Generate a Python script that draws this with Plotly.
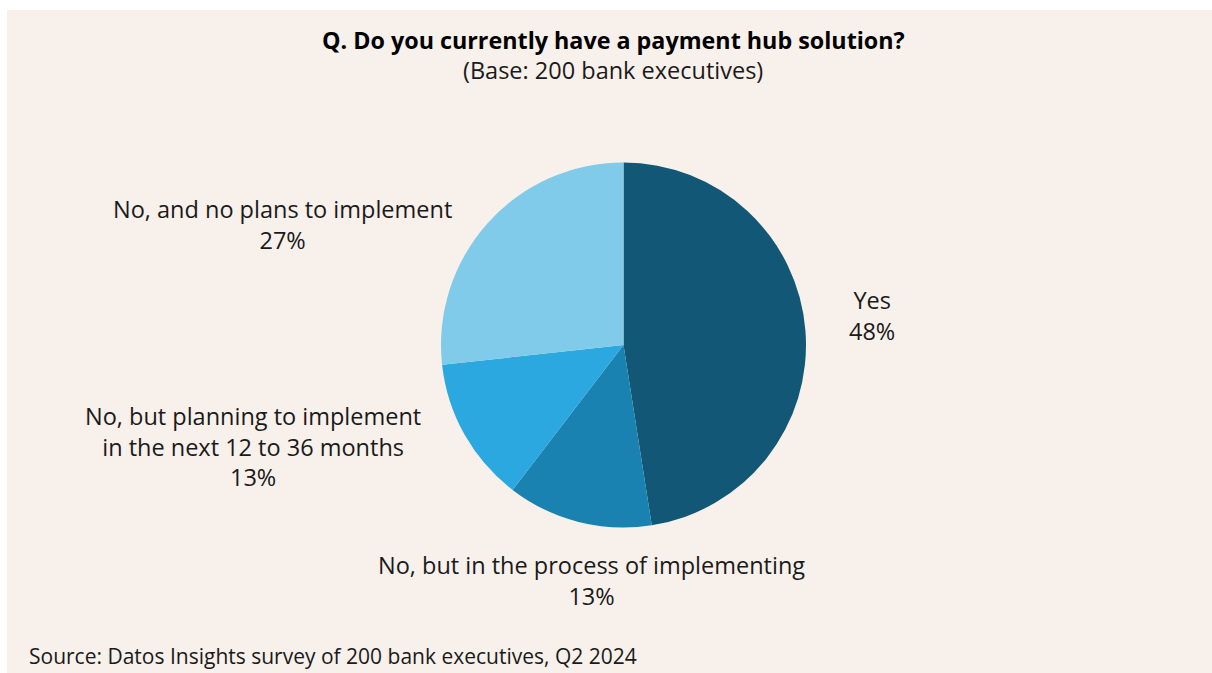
import plotly.graph_objects as go

# Survey responses
categories = [
    "Yes",
    "No, but in the process of implementing",
    "No, but planning to implement<br>in the next 12 to 36 months",
    "No, and no plans to implement",
]
shares = [48, 13, 13, 27]
slice_colors = ["#125876", "#1A82B0", "#2BA8DF", "#80CAEA"]

title_text = "<b>Q. Do you currently have a payment hub solution?</b>"
subtitle_text = "(Base: 200 bank executives)"
source_text = "Source: Datos Insights survey of 200 bank executives, Q2 2024"

W, H = 1212, 673
BG = "#F8F0EA"
INK = "#1A1A1A"
FONT = "'Open Sans', Lato, sans-serif"


def px(x):
    return x / W


def py(y):
    return 1 - y / H


fig = go.Figure(
    go.Pie(
        labels=categories,
        values=shares,
        sort=False,
        direction="clockwise",
        rotation=0,
        marker=dict(colors=slice_colors, line=dict(width=0)),
        textinfo="none",
        hoverinfo="label+value",
        showlegend=False,
        domain=dict(x=[px(441), px(806)], y=[py(527.5), py(162.5)]),
    )
)

# Label anchor points (pixel centres) for each slice
label_xy = [(872, 315), (591, 580), (253, 446), (282, 225)]
for name, val, (lx, ly) in zip(categories, shares, label_xy):
    fig.add_annotation(
        x=px(lx), y=py(ly), xref="paper", yref="paper",
        text=f"{name}<br>{val}%", showarrow=False,
        xanchor="center", yanchor="middle", align="center",
        font=dict(family=FONT, size=23.5, color=INK),
    )

fig.add_annotation(
    x=px(613), y=py(40), xref="paper", yref="paper", text=title_text,
    showarrow=False, xanchor="center", yanchor="middle",
    font=dict(family=FONT, size=23.3, color="#000000"),
)
fig.add_annotation(
    x=px(613), y=py(70), xref="paper", yref="paper", text=subtitle_text,
    showarrow=False, xanchor="center", yanchor="middle",
    font=dict(family=FONT, size=23.5, color=INK),
)
fig.add_annotation(
    x=px(27), y=py(656), xref="paper", yref="paper", text=source_text,
    showarrow=False, xanchor="left", yanchor="middle",
    font=dict(family=FONT, size=21, color=INK),
)

# Beige panel inset from the top-left corner
fig.add_shape(
    type="rect", xref="paper", yref="paper",
    x0=px(7), x1=1.01, y0=-0.01, y1=py(10),
    fillcolor=BG, line=dict(width=0), layer="below",
)

fig.update_layout(
    width=W, height=H,
    margin=dict(l=0, r=0, t=0, b=0),
    paper_bgcolor="#FFFFFF",
    plot_bgcolor="#FFFFFF",
)

fig.write_html("out.html")
